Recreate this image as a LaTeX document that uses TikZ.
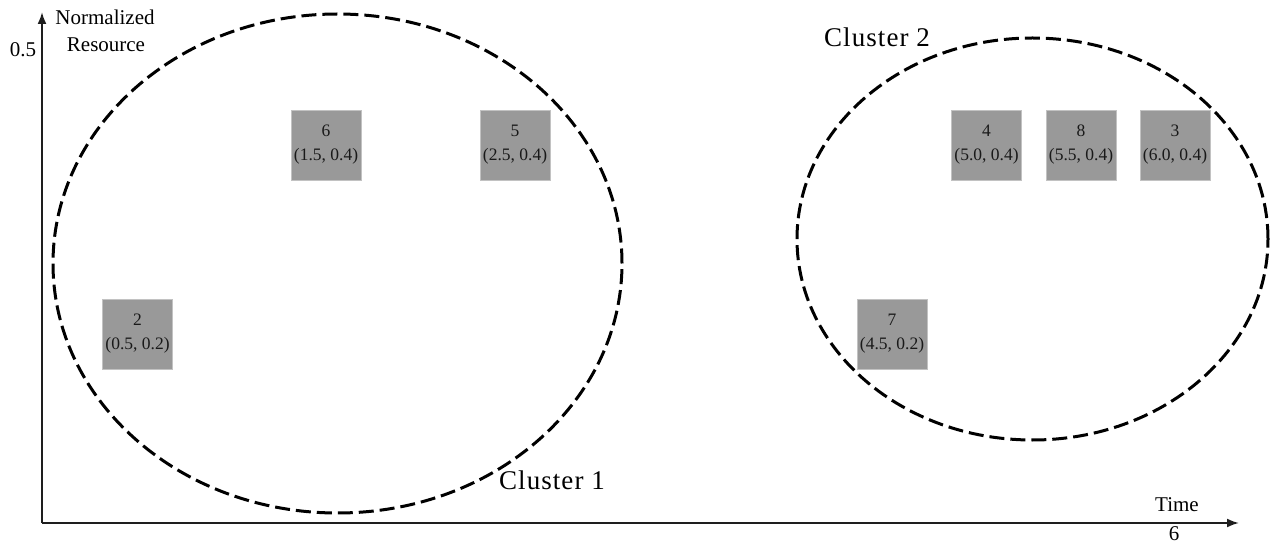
\documentclass[tikz,border=0pt]{standalone}
\usepackage{fontspec}
\setmainfont{Liberation Serif}
\usetikzlibrary{arrows.meta}
\definecolor{boxgray}{HTML}{999999}
\definecolor{axisgray}{HTML}{1E1E1E}
\begin{document}
\begin{tikzpicture}[x=1pt,y=-1pt,
  job/.style={minimum width=70pt,minimum height=70pt,inner sep=0pt,
    fill=boxgray,draw=boxgray!60!white,line width=0.8pt,align=center,
    text=black!90,font=\fontsize{17.5}{24}\selectfont},
  axisline/.style={draw=axisgray,line width=2pt,-{Latex[length=12pt,width=9pt]}},
  clusterline/.style={draw=black,line width=3pt,dash pattern=on 15pt off 6pt},
  axislabel/.style={inner sep=0pt,anchor=base,font=\fontsize{21}{27}\selectfont},
  clusterlabel/.style={inner sep=0pt,anchor=base,font=\fontsize{27}{32}\selectfont\addfontfeature{LetterSpace=4}}]
\useasboundingbox (0,0) rectangle (1270,545);

% axes
\coordinate (origin) at (42,523);
\coordinate (ytip) at (42,12);
\coordinate (xtip) at (1239,523);
\draw[axisline] (origin) -- (ytip);
\draw[axisline] (origin) -- (xtip);

\node[axislabel] (ylab1) at (105,25) {Normalized};
\node[axislabel] (ylab2) at (106,52) {Resource};
\node[axislabel] (ymax) at (23,57) {0.5};
\node[axislabel] (xlab) at (1177,511) {Time};
\node[axislabel] (xmax) at (1174,540) {6};

% clusters
\draw[clusterline] (337.5,263.5) ellipse [x radius=284.5pt, y radius=249.5pt];
\draw[clusterline] (1032.5,239) ellipse [x radius=235.5pt, y radius=201pt];
\node[clusterlabel] (c1) at (552,489) {Cluster 1};
\node[clusterlabel] (c2) at (877,47) {Cluster 2};

% jobs
\node[job] (j6) at (326,145) {6\\(1.5, 0.4)};
\node[job] (j5) at (515,145) {5\\(2.5, 0.4)};
\node[job] (j2) at (137.5,334) {2\\(0.5, 0.2)};
\node[job] (j4) at (986.5,145) {4\\(5.0, 0.4)};
\node[job] (j8) at (1081,145) {8\\(5.5, 0.4)};
\node[job] (j3) at (1175,145) {3\\(6.0, 0.4)};
\node[job] (j7) at (892,334) {7\\(4.5, 0.2)};
\end{tikzpicture}
\end{document}
